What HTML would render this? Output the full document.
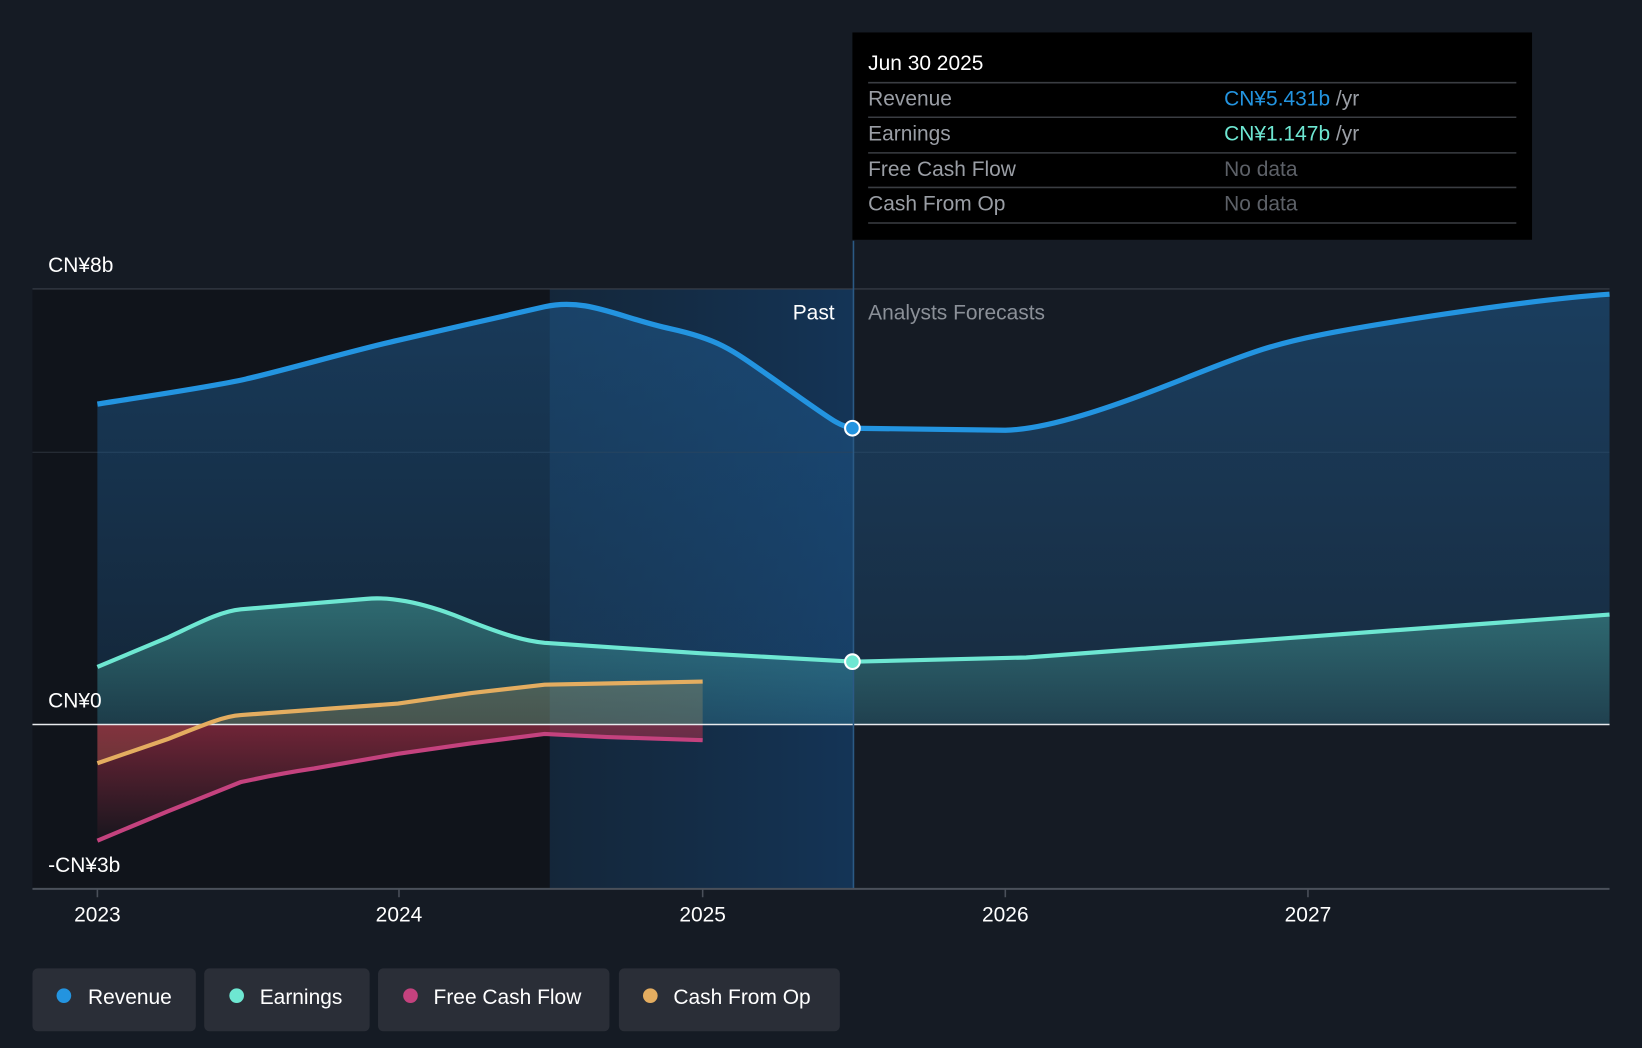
<!DOCTYPE html>
<html><head><style>
html,body{margin:0;padding:0;background:#151b24;}
svg{display:block;font-family:"Liberation Sans",Roboto,sans-serif;}
</style></head><body>
<svg width="1642" height="1048" viewBox="0 0 1568 1001" preserveAspectRatio="none">
<defs>
<linearGradient id="rg" x1="0" y1="0" x2="0" y2="1"><stop offset="0" stop-color="#1f5a8e" stop-opacity="0.55"/><stop offset="1" stop-color="#1f5a8e" stop-opacity="0.25"/></linearGradient>
<linearGradient id="eg" x1="0" y1="0" x2="0" y2="1"><stop offset="0" stop-color="#5ee0c8" stop-opacity="0.35"/><stop offset="1" stop-color="#5ee0c8" stop-opacity="0.12"/></linearGradient>
<linearGradient id="fg" x1="0" y1="0" x2="0" y2="1"><stop offset="0" stop-color="#b0304a" stop-opacity="0.6"/><stop offset="1" stop-color="#b0304a" stop-opacity="0.05"/></linearGradient>
<linearGradient id="hg" x1="0" y1="0" x2="1" y2="0"><stop offset="0" stop-color="#133250" stop-opacity="0.5"/><stop offset="1" stop-color="#14375c" stop-opacity="0.9"/></linearGradient>
</defs>
<rect width="1568" height="1001" fill="#151b24"/>
<rect x="31" y="276" width="494" height="573" fill="#10141b"/>
<rect x="525" y="276" width="290" height="573" fill="url(#hg)"/>
<line x1="31" y1="276" x2="1537" y2="276" stroke="#3a404a" stroke-width="1"/>
<line x1="31" y1="432" x2="1537" y2="432" stroke="#2c333d" stroke-width="1"/>
<!-- revenue fill -->
<path d="M93,386 C130,380 200,370 235,362 S340,334 380,325 S480,302 520,293 S590,303 640,314 S700,335 750,370 S800,406 815,409 L960,411 C1000,410 1060,390 1130,362 S1220,328 1260,320 S1450,287 1537,281 L1537,692 L93,692 Z" fill="url(#rg)"/>
<!-- earnings fill -->
<path d="M93,637 L160,609 C190,595 210,584 230,582 S330,574 350,572 S400,574 440,590 S500,612 520,614 L670,624 L815,632 L980,628 L1250,608 L1537,587 L1537,692 L93,692 Z" fill="url(#eg)"/>
<!-- cfo fill -->
<path d="M93,729 L160,706 C200,690 215,684 230,683 L380,672 L450,662 L520,654 L671,651 L671,692 L93,692 Z" fill="#c9a060" fill-opacity="0.25"/>
<path d="M93,692 L671,692 L671,707 L580,704 L520,701 L450,710 L380,720 L300,734 C260,740 245,744 230,747 L160,775 L93,803 Z" fill="url(#fg)"/>
<line x1="31" y1="692" x2="1537" y2="692" stroke="#e8eaed" stroke-width="1.5"/>
<line x1="815" y1="230" x2="815" y2="849" stroke="#2b5a85" stroke-width="1.5"/>
<!-- lines -->
<path d="M93,386 C130,380 200,370 235,362 S340,334 380,325 S480,302 520,293 S590,303 640,314 S700,335 750,370 S800,406 815,409 L960,411 C1000,410 1060,390 1130,362 S1220,328 1260,320 S1450,287 1537,281" fill="none" stroke="#2394e0" stroke-width="5"/>
<path d="M93,637 L160,609 C190,595 210,584 230,582 S330,574 350,572 S400,574 440,590 S500,612 520,614 L670,624 L815,632 L980,628 L1250,608 L1537,587" fill="none" stroke="#6ee7d2" stroke-width="4"/>
<path d="M93,729 L160,706 C200,690 215,684 230,683 L380,672 L450,662 L520,654 L671,651" fill="none" stroke="#e4ad60" stroke-width="4"/>
<path d="M93,803 L160,775 L230,747 C245,744 260,740 300,734 L380,720 L450,710 L520,701 L580,704 L671,707" fill="none" stroke="#c4427e" stroke-width="4"/>
<circle cx="814" cy="409" r="7" fill="#2394e0" stroke="#fff" stroke-width="2"/>
<circle cx="814" cy="632" r="7" fill="#6ee7d2" stroke="#fff" stroke-width="2"/>
<!-- axis -->
<line x1="31" y1="849" x2="1537" y2="849" stroke="#4a505a" stroke-width="2"/>
<g stroke="#4a505a" stroke-width="1.5"><line x1="93" y1="849" x2="93" y2="857"/><line x1="381" y1="849" x2="381" y2="857"/><line x1="671" y1="849" x2="671" y2="857"/><line x1="960" y1="849" x2="960" y2="857"/><line x1="1249" y1="849" x2="1249" y2="857"/></g>
<g fill="#fff" font-size="20" text-anchor="middle"><text x="93" y="880">2023</text><text x="381" y="880">2024</text><text x="671" y="880">2025</text><text x="960" y="880">2026</text><text x="1249" y="880">2027</text></g>
<g fill="#fff" font-size="20"><text x="46" y="260">CN¥8b</text><text x="46" y="676">CN¥0</text><text x="46" y="833">-CN¥3b</text></g>
<text x="797" y="305" fill="#fff" font-size="20" text-anchor="end">Past</text>
<text x="829" y="305" fill="#8b9098" font-size="20">Analysts Forecasts</text>
<!-- tooltip -->
<rect x="814" y="31" width="649" height="198" fill="#000"/>
<text x="829" y="67" fill="#fff" font-size="20">Jun 30 2025</text>
<g stroke="#3a3d42" stroke-width="1.5"><line x1="829" y1="79" x2="1448" y2="79"/><line x1="829" y1="112" x2="1448" y2="112"/><line x1="829" y1="146" x2="1448" y2="146"/><line x1="829" y1="179" x2="1448" y2="179"/><line x1="829" y1="213" x2="1448" y2="213"/></g>
<g font-size="20" fill="#9a9ea5"><text x="829" y="101">Revenue</text><text x="829" y="134">Earnings</text><text x="829" y="168">Free Cash Flow</text><text x="829" y="201">Cash From Op</text></g>
<text x="1169" y="101" font-size="20" fill="#2394e0">CN¥5.431b <tspan fill="#9a9ea5">/yr</tspan></text>
<text x="1169" y="134" font-size="20" fill="#6ee7d2">CN¥1.147b <tspan fill="#9a9ea5">/yr</tspan></text>
<text x="1169" y="168" font-size="20" fill="#5d6168">No data</text>
<text x="1169" y="201" font-size="20" fill="#5d6168">No data</text>
<!-- legend -->
<g fill="#2a2e37"><rect x="31" y="925" width="156" height="60" rx="5"/><rect x="195" y="925" width="158" height="60" rx="5"/><rect x="361" y="925" width="221" height="60" rx="5"/><rect x="591" y="925" width="211" height="60" rx="5"/></g>
<circle cx="61" cy="951" r="7" fill="#2394e0"/><circle cx="226" cy="951" r="7" fill="#6ee7d2"/><circle cx="392" cy="951" r="7" fill="#c4427e"/><circle cx="621" cy="951" r="7" fill="#e4ad60"/>
<g fill="#fff" font-size="20"><text x="84" y="959">Revenue</text><text x="248" y="959">Earnings</text><text x="414" y="959">Free Cash Flow</text><text x="643" y="959">Cash From Op</text></g>
</svg>
</body></html>
